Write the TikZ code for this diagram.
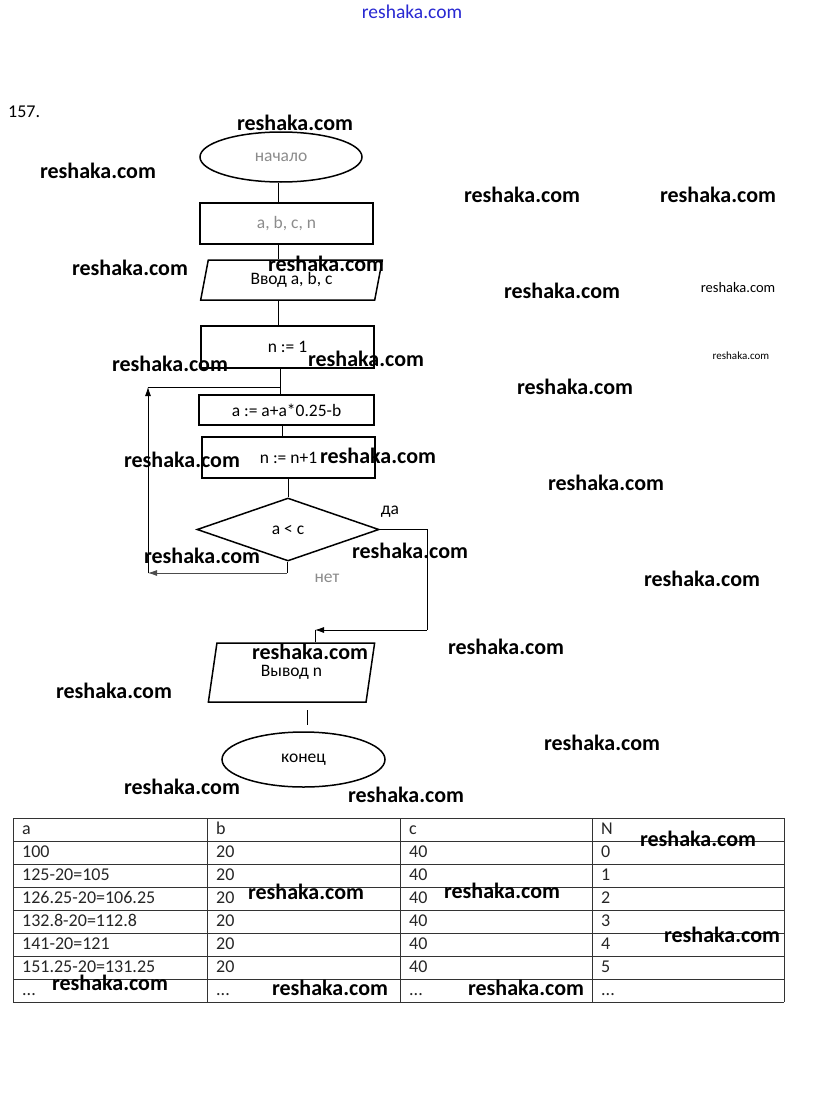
\documentclass[tikz,border=0pt]{standalone}
\usepackage{fontspec}
\setmainfont{Carlito}
\usetikzlibrary{shapes.geometric,arrows.meta}
\definecolor{fade}{gray}{0.55}
\definecolor{lnk}{RGB}{40,40,210}
\newcommand{\fcfont}{\fontsize{17.5}{19}\selectfont}
\newcommand{\wmfont}{\fontsize{22}{24}\selectfont\bfseries}
\newcommand{\cellfont}{\fontsize{18}{20}\selectfont}
\newcommand{\tdots}{.{}.{}.}
\tikzset{
  shp/.style={draw, line width=1.5pt, inner sep=0pt, font=\fcfont},
  para/.style={shp, trapezium, trapezium left angle=76, trapezium right angle=104, trapezium stretches=true},
  conn/.style={line width=0.8pt},
  arr/.style={conn, -{Latex[length=9pt,width=6pt]}},
  wm/.style={font=\wmfont, inner sep=0pt},
  lbl/.style={font=\fcfont, inner sep=0pt},
  cell/.style={anchor=base west, inner sep=0pt, font=\cellfont, text=black!85},
  grid/.style={line width=0.9pt, draw=black!80},
}
\begin{document}
\begin{tikzpicture}[x=1pt,y=-1pt]
\useasboundingbox[fill=white] (0,0) rectangle (823,1116);

% header
\node[font=\fontsize{19.5}{21}\selectfont, text=lnk, inner sep=0pt] (site) at (412,12) {reshaka.com};
\node[font=\fontsize{18}{20}\selectfont, inner sep=0pt, anchor=west] (num) at (8,112) {157.};

% flowchart nodes
\node[shp, ellipse, minimum width=162pt, minimum height=50pt, text=fade] (start) at (281,157) {начало};
\node[shp, rectangle, minimum width=173pt, minimum height=41pt, text=fade] (vars) at (286.5,223.5) {a, b, c, n};
\node[para, minimum width=183pt, minimum height=40pt] (inp) at (291.5,280) {Ввод a, b, c};
\node[shp, rectangle, minimum width=173pt, minimum height=42pt] (init) at (287.5,347) {n := 1};
\node[shp, rectangle, minimum width=175pt, minimum height=30pt] (upd) at (286.5,410) {a := a+a*0.25-b};
\node[shp, rectangle, minimum width=173pt, minimum height=41pt] (inc) at (288.5,457.5) {n := n+1};
\node[shp, diamond, minimum width=182pt, minimum height=63pt] (cond) at (288,529.5) {a < c};
\node[para, minimum width=167pt, minimum height=59pt] (out) at (291.5,672.5) {Вывод n};
\node[shp, ellipse, minimum width=163pt, minimum height=55pt] (stop) at (303.5,759.5) {конец};

\node[lbl] (yes) at (390,512) {да};
\node[lbl, text=fade] (no) at (327,578) {нет};

% connector columns / corners
\coordinate (c1) at (278,0);
\coordinate (c2) at (280,0);
\coordinate (c3) at (282,0);
\coordinate (j) at (280,387);
\coordinate (nb) at (287,573);
\coordinate (lb) at (148,573);
\coordinate (lt) at (148,387);
\coordinate (rt) at (427,529.5);
\coordinate (rb) at (427,630);
\coordinate (ob) at (315,630);
\coordinate (f1) at (307,710);
\coordinate (f2) at (307,725);

\draw[conn] (start.south -| c1) -- (vars.north -| c1);
\draw[conn] (vars.south -| c1) -- (inp.north -| c1);
\draw[conn] (inp.south -| c1) -- (init.north -| c1);
\draw[conn] (init.south -| c2) -- (upd.north -| c2);
\draw[conn] (upd.south -| c3) -- (inc.north -| c3);
\draw[conn] (inc.south -| cond.north) -- (cond.north);

% loop back (нет)
\draw[conn] (cond.south -| nb) -- (nb);
\draw[arr, draw=black!70] (nb) -- (lb);
\draw[arr] (lb) -- (lt);
\draw[conn] (lt) -- (j);

% exit (да)
\draw[conn] (cond.east) -- (rt) -- (rb);
\draw[arr] (rb) -- (ob);
\draw[conn] (ob) -- (out.north -| ob);
\draw[conn] (f1) -- (f2);

% table
\foreach \r in {0,1,2,3,4,5,6,7,8}{
  \draw[grid] (13,818+23*\r) -- (784,818+23*\r);
}
\foreach \c in {13,207,400,592,784}{
  \draw[grid] (\c,818) -- (\c,1002);
}
\foreach \i/\a/\b/\c/\n in {0/a/b/c/N, 1/100/20/40/0, 2/125-20=105/20/40/1,
  3/126.25-20=106.25/20/40/2, 4/132.8-20=112.8/20/40/3, 5/141-20=121/20/40/4,
  6/151.25-20=131.25/20/40/5, 7/\tdots/\tdots/\tdots/\tdots}{
  \node[cell] (ta\i) at (22,834.5+23*\i) {\a};
  \node[cell] (tb\i) at (216,834.5+23*\i) {\b};
  \node[cell] (tc\i) at (409,834.5+23*\i) {\c};
  \node[cell] (tn\i) at (601,834.5+23*\i) {\n};
}

% watermarks
\foreach \k/\x/\y in {1/295/123, 2/98/171, 3/522/195, 4/718/195, 5/130/268, 6/326/264,
  7/562/291, 8/366/359, 9/170/364, 10/575/387, 11/182/460, 12/378/456, 13/606/483,
  14/202/556, 15/410/551, 16/702/579, 17/310/652, 18/506/647, 19/114/691, 20/602/743,
  21/182/787, 22/406/795, 23/698/839, 24/306/892, 25/502/891, 26/722/935,
  27/110/983, 28/330/988, 29/526/988}{
  \node[wm] (wm\k) at (\x,\y) {reshaka.com};
}
\node[font=\fontsize{14.5}{16}\selectfont, inner sep=0pt] (wmsmall) at (738,288) {reshaka.com};
\node[font=\fontsize{11}{12}\selectfont, inner sep=0pt] (wmtiny) at (741,356) {reshaka.com};
\end{tikzpicture}
\end{document}
